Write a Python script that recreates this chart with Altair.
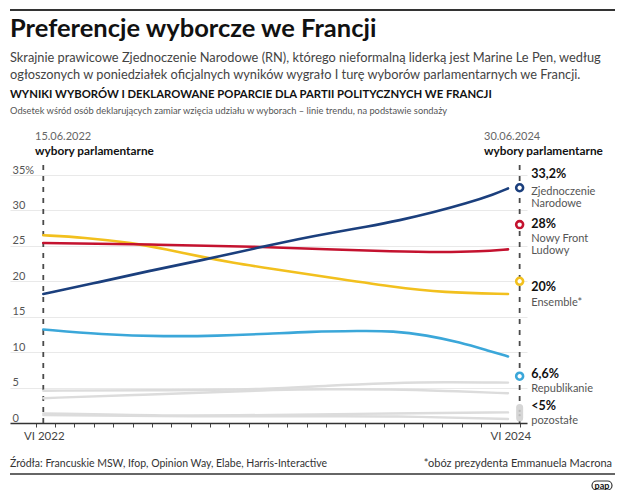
import altair as alt
import pandas as pd

FONT = "Lato"

# x = months since 1 June 2022, y = support in %
rn_x = [0.39, 3.32, 5.90, 8.48, 11.58, 13.64, 15.19, 17.10, 18.80, 20.51, 22.27, 23.71, 24.40]
rn_y = [18.2, 19.9, 21.5, 22.9, 24.8, 26.0, 26.8, 27.7, 28.6, 29.7, 31.0, 32.3, 33.1]

nfp_x = [0.39, 5.90, 11.58, 15.04, 18.45, 21.03, 22.94, 24.40]
nfp_y = [25.4, 25.2, 24.9, 24.5, 24.2, 24.1, 24.2, 24.5]

ens_x = [0.39, 2.46, 5.04, 6.76, 8.48, 10.20, 12.10, 15.02, 18.46, 21.04, 24.40]
ens_y = [26.5, 26.2, 25.4, 24.5, 23.5, 22.6, 21.8, 20.6, 19.2, 18.4, 18.2]

lr_x = [0.39, 3.32, 6.76, 9.34, 12.10, 14.16, 16.74, 18.46, 20.19, 21.90, 23.50, 24.40]
lr_y = [13.2, 12.5, 12.2, 12.3, 12.6, 12.9, 13.0, 13.0, 12.4, 11.4, 10.1, 9.4]

g1_x = [0.39, 5.90, 12.10, 15.02, 18.46, 21.04, 24.40]
g1_y = [4.56, 4.60, 4.75, 5.30, 5.65, 5.80, 5.70]
g2_x = [0.39, 5.04, 10.00, 12.10, 15.02, 18.46, 21.04, 24.40]
g2_y = [3.50, 3.95, 4.40, 4.65, 4.80, 4.75, 4.55, 4.20]
g3_x = [0.39, 6.76, 12.10, 18.46, 24.40]
g3_y = [1.36, 1.00, 1.13, 1.36, 1.50]
g4_x = [0.39, 8.50, 14.00, 18.46, 24.40]
g4_y = [1.13, 0.90, 0.95, 1.00, 0.56]

# election results, 30.06.2024
res_names = ["RN", "NFP", "ENS", "LR"]
res_vals = [33.2, 28.0, 20.0, 6.6]
res_x = 25.0
election_x = [0.39, 25.0]

series_colors = {"RN": "#1b3f7d", "NFP": "#c4122f", "ENS": "#f2c01e", "LR": "#3ba7d9"}

rows = []
for name, xs, ys in [("G1", g1_x, g1_y), ("G2", g2_x, g2_y), ("G3", g3_x, g3_y), ("G4", g4_x, g4_y),
                     ("LR", lr_x, lr_y), ("ENS", ens_x, ens_y), ("NFP", nfp_x, nfp_y), ("RN", rn_x, rn_y)]:
    for x, y in zip(xs, ys):
        rows.append({"series": name, "m": x, "v": y})
df = pd.DataFrame(rows)

x_scale = alt.Scale(domain=[-1.33, 25.38], nice=False, zero=False)
y_scale = alt.Scale(domain=[0, 35], nice=False, zero=False)

x_axis = alt.Axis(values=list(range(26)), labels=False, title=None, grid=False, ticks=True,
                  tickSize=4, tickColor="#444", tickWidth=1, domainColor="#333", domainWidth=1.5)
y_axis = alt.Axis(values=[0, 5, 10, 15, 20, 25, 30, 35], title=None, domain=False, ticks=False,
                  tickSize=0, labelAlign="left", labelPadding=-2, labelBaseline="alphabetic",
                  labelOffset=-2, labelFont=FONT, labelFontSize=11, labelColor="#555",
                  gridColor="#e9e9e9", gridWidth=1, labelFlush=False,
                  labelExpr="datum.value == 35 ? '35%' : datum.label")

X = lambda: alt.X("m:Q", scale=x_scale, axis=x_axis)
Y = lambda: alt.Y("v:Q", scale=y_scale, axis=y_axis)

layers = []

# dashed election markers
ev = pd.DataFrame({"m": election_x, "v": [0, 0], "v2": [36.8, 36.8]})
layers.append(alt.Chart(ev).mark_rule(color="#4a4a4a", strokeWidth=1.8, strokeDash=[5, 6]).encode(
    x=X(), y=Y(), y2="v2:Q"))

def line(name, color, width=2.6):
    return alt.Chart(df).transform_filter(alt.datum.series == name).mark_line(
        color=color, strokeWidth=width, interpolate="basis", strokeCap="round").encode(x=X(), y=Y())

for g in ["G1", "G2", "G3", "G4"]:
    layers.append(line(g, "#dcdcdc", 2.4))
for s in ["LR", "ENS", "NFP", "RN"]:
    layers.append(line(s, series_colors[s]))

# "<5%" capsule for other parties
cap = pd.DataFrame({"m": [res_x], "v": [0.7], "v2": [2.2]})
layers.append(alt.Chart(cap).mark_rule(color="#d6d6d6", strokeWidth=7, strokeCap="round").encode(
    x=X(), y=Y(), y2="v2:Q"))
dots = pd.DataFrame({"m": [res_x, res_x], "v": [1.1, 1.7]})
layers.append(alt.Chart(dots).mark_point(filled=True, color="#b0b0b0", size=5).encode(x=X(), y=Y()))

# result circles
res = pd.DataFrame({"series": res_names, "m": [res_x] * 4, "v": res_vals})
layers.append(alt.Chart(res).mark_point(shape="circle", filled=True, fill="white", size=48,
                                        strokeWidth=2.6, opacity=1).encode(
    x=X(), y=Y(),
    stroke=alt.Stroke("series:N", scale=alt.Scale(domain=list(series_colors.keys()),
                                                  range=list(series_colors.values())), legend=None)))

# labels beside the results
val_labels = ["33,2%", "28%", "20%", "6,6%", "<5%"]
val_y = [35.1, 28.05, 19.15, 6.87, 2.36]
name_labels = ["Zjednoczenie", "Narodowe", "Nowy Front", "Ludowy", "Ensemble*", "Republikanie", "pozostałe"]
name_y = [32.64, 30.95, 26.0, 24.3, 16.98, 4.84, 0.32]
vl = pd.DataFrame({"t": val_labels, "m": [25.6] * len(val_labels), "v": val_y})
nl = pd.DataFrame({"t": name_labels, "m": [25.6] * len(name_labels), "v": name_y})
layers.append(alt.Chart(vl).mark_text(align="left", baseline="middle", font=FONT, fontSize=12.5,
                                      fontWeight="bold", color="#111").encode(x=X(), y=Y(), text="t:N"))
layers.append(alt.Chart(nl).mark_text(align="left", baseline="middle", font=FONT, fontSize=11,
                                      color="#555").encode(x=X(), y=Y(), text="t:N"))

# x axis labels
xl = pd.DataFrame({"t": ["VI 2022", "VI 2024"], "m": [0.44, 24.54], "v": [-1.95, -1.95]})
layers.append(alt.Chart(xl).mark_text(align="center", baseline="middle", font=FONT, fontSize=11.5,
                                      color="#444").encode(x=X(), y=Y(), text="t:N"))

one = pd.DataFrame({"a": [0]})

def txt(t, x, y, size, color="#111", weight="normal", align="left"):
    return alt.Chart(one).mark_text(text=t, align=align, baseline="middle", font=FONT, fontSize=size,
                                    fontWeight=weight, color=color).encode(x=alt.value(x), y=alt.value(y))

def hrule(x1, x2, y, color="#333", width=1.5):
    return alt.Chart(one).mark_rule(color=color, strokeWidth=width).encode(
        x=alt.value(x1), x2=alt.value(x2), y=alt.value(y))

layers += [
    hrule(0, 605, -165, "#333", 2),
    txt("Preferencje wyborcze we Francji", 0, -146, 25.5, "#111", "bold"),
    txt("Skrajnie prawicowe Zjednoczenie Narodowe (RN), którego nieformalną liderką jest Marine Le Pen, według",
        0, -117, 12.8, "#444"),
    txt("ogłoszonych w poniedziałek oficjalnych wyników wygrało I turę wyborów parlamentarnych we Francji.",
        0, -100, 12.8, "#444"),
    txt("WYNIKI WYBORÓW I DEKLAROWANE POPARCIE DLA PARTII POLITYCZNYCH WE FRANCJI", 0, -80, 11.3, "#111", "bold"),
    txt("Odsetek wśród osób deklarujących zamiar wzięcia udziału w wyborach – linie trendu, na podstawie sondaży",
        0, -64, 9.3, "#555"),
    txt("15.06.2022", 25, -38, 11, "#666"),
    txt("wybory parlamentarne", 25, -24, 11.8, "#111", "bold"),
    txt("30.06.2024", 474, -38, 11, "#666"),
    txt("wybory parlamentarne", 474, -24, 11.8, "#111", "bold"),
    txt("Źródła: Francuskie MSW, Ifop, Opinion Way, Elabe, Harris-Interactive", 0, 289, 10.5, "#333"),
    txt("*obóz prezydenta Emmanuela Macrona", 602, 289, 11, "#333", align="right"),
    hrule(0, 605, 299, "#333", 1.5),
    alt.Chart(one).mark_rect(fill="white", stroke="#333", strokeWidth=1.2, cornerRadius=5).encode(
        x=alt.value(582), x2=alt.value(602), y=alt.value(306), y2=alt.value(315)),
    txt("pap", 592, 310.5, 9, "#111", "bold", align="center"),
]

chart = alt.layer(*layers).properties(
    width=517, height=248,
    autosize=alt.AutoSizeParams(type="none"),
    padding={"left": 2, "top": 167, "right": 90, "bottom": 67},
    background="white",
).configure_view(stroke=None)

chart.save("out.html", embed_options={"renderer": "svg", "actions": False})
